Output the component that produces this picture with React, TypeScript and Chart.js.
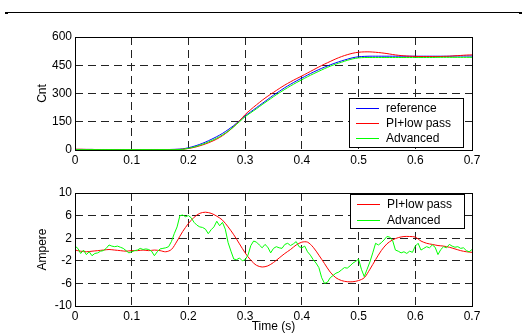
import React, { useEffect, useRef } from 'react';
import { Chart, registerables } from 'chart.js';

Chart.register(...registerables);

// ---- data ----
const xTicks = [0, 0.1, 0.2, 0.3, 0.4, 0.5, 0.6, 0.7];
const cntTicks = [0, 150, 300, 450, 600];
const ampTicks = [-10, -6, -2, 2, 6, 10];

const posStep = 0.01; // s
const posReference = [
  3, 3, 3, 3, 2, 2, 2, 2, 2, 2, 2, 2, 2, 2, 2, 2, 2, 3, 4, 6,
  12, 20, 30, 42, 56, 71, 88, 108, 130, 156,
  181, 203, 225, 247, 269, 291, 311, 331, 349, 366,
  382, 398, 413, 427, 440, 452, 463, 473, 482, 490,
  495, 497, 498, 498, 498, 498, 498, 498, 498, 498,
  498, 498, 498, 498, 498, 498, 498, 499, 499, 499, 499,
];
const posPiLowPass = [
  4, 4, 3, 3, 2, 2, 2, 2, 2, 2, 2, 2, 2, 2, 2, 2, 2, 2, 3, 4,
  8, 14, 22, 32, 44, 58, 76, 98, 124, 154,
  188, 215, 240, 264, 286, 306, 326, 345, 362, 378,
  393, 409, 425, 441, 456, 470, 484, 496, 506, 514,
  519, 521, 521, 519, 516, 512, 507, 503, 500, 498,
  497, 496, 496, 496, 496, 497, 498, 500, 502, 504, 505,
];
const posAdvanced = [
  2, 2, 2, 2, 2, 2, 2, 2, 2, 2, 2, 2, 2, 2, 2, 2, 2, 2, 2, 4,
  9, 16, 25, 36, 49, 63, 80, 100, 124, 150,
  177, 198, 219, 241, 262, 283, 303, 322, 340, 357,
  373, 389, 404, 418, 432, 445, 456, 466, 476, 484,
  489, 491, 491, 491, 491, 491, 491, 491, 491, 491,
  491, 491, 491, 491, 492, 492, 492, 492, 492, 492, 492,
];

const curPiStep = 0.01; // s
const curPiLowPass = [
  -0.1, -0.3, -0.4, -0.3, -0.2, -0.1, 0.0, -0.1, -0.2, -0.3,
  -0.2, -0.2, -0.1, -0.2, -0.1, -0.2, -0.4, 0.0, 1.5, 3.2,
  4.6, 5.7, 6.4, 6.6, 6.4, 5.9, 5.2, 4.0, 2.6, 1.0,
  -0.6, -1.9, -2.8, -3.1, -2.9, -2.3, -1.5, -0.7, 0.0, 0.8,
  1.3, 1.3, 0.4, -1.0, -2.5, -4.0, -5.0, -5.5, -5.7, -5.7,
  -5.5, -5.0, -3.5, -1.8, -0.2, 1.0, 1.7, 2.1, 2.3, 2.3,
  2.2, 1.5, 1.1, 0.9, 0.7, 0.6, 0.4, 0.1, -0.2, -0.4, -0.5,
];

const curAdvStep = 0.005; // s
const curAdvanced = [
  0.6, 0.2, -0.7, -0.1, -0.9, -0.4, -1.1, -0.7, -0.6, -0.3,
  -0.2, 0.2, 0.8, 0.6, 0.5, 0.6, 0.4, 0.2, -0.2, -0.6,
  -0.4, -0.2, -0.1, 0.2, 0.0, 0.1, 0.0, -0.3, -1.1, -0.4,
  0.1, 0.2, 0.3, 0.5, 1.4, 2.8, 4.0, 6.0, 6.1, 5.8,
  6.0, 5.6, 4.8, 4.3, 4.0, 3.9, 3.6, 2.8, 3.5, 4.0,
  5.0, 4.2, 4.8, 3.6, 1.2, -0.3, -1.7, -1.8, -1.5, -2.0,
  -1.8, -1.0, 0.7, 1.5, 1.3, 0.8, 0.3, 0.9, 0.4, -0.6,
  0.2, 0.5, 0.3, 0.2, 0.9, 1.1, 0.7, 1.0, 1.4, 0.5,
  0.3, 0.6, -0.4, -1.0, -1.8, -2.4, -3.2, -5.0, -6.0, -5.8,
  -5.0, -4.6, -4.2, -4.0, -3.6, -3.2, -3.3, -2.9, -2.4, -2.1,
  -1.7, -3.5, -4.8, -3.5, -2.2, -0.6, 1.1, 0.8, 1.2, 1.7,
  2.3, 2.2, 1.6, -0.1, -0.3, -0.6, -0.4, -0.7, -0.3, -0.5,
  0.6, 1.1, -0.1, 0.2, 0.5, 0.3, 0.8, 0.4, -0.9, 0.0,
  0.5, 0.3, 0.9, 0.6, 0.4, 0.5, 0.2, 0.3, -0.2, -0.4, 0.0,
];

// ---- helpers ----
const FONT = { family: '"Liberation Sans", Arial, Helvetica, sans-serif', size: 12 };
const toXY = (arr: number[], step: number) => arr.map((y, i) => ({ x: +(i * step).toFixed(4), y }));

const framePlugin = {
  id: 'frame',
  afterDatasetsDraw(chart: any) {
    const { ctx, chartArea: a } = chart;
    ctx.save();
    ctx.strokeStyle = '#000';
    ctx.lineWidth = 1;
    ctx.strokeRect(Math.round(a.left) + 0.5, Math.round(a.top) + 0.5, Math.round(a.right - a.left), Math.round(a.bottom - a.top));
    ctx.restore();
  },
};

const legendPlugin = {
  id: 'insideLegend',
  afterDatasetsDraw(chart: any, _args: any, opts: any) {
    const { ctx, chartArea: a } = chart;
    const w = opts.width;
    const h = opts.height;
    const left = Math.round(a.right - opts.right - w);
    const top = Math.round(opts.anchor === 'bottom' ? a.bottom - opts.bottom - h : a.top + opts.top);
    ctx.save();
    ctx.fillStyle = '#fff';
    ctx.fillRect(left, top, w, h);
    ctx.strokeStyle = '#000';
    ctx.lineWidth = 1;
    ctx.strokeRect(left + 0.5, top + 0.5, w, h);
    ctx.font = `${FONT.size}px ${FONT.family}`;
    ctx.textBaseline = 'middle';
    chart.data.datasets.forEach((ds: any, i: number) => {
      const y = Math.round(top + opts.firstRow + i * opts.rowHeight) + 0.5;
      ctx.strokeStyle = ds.borderColor;
      ctx.lineWidth = 1;
      ctx.beginPath();
      ctx.moveTo(left + 7, y);
      ctx.lineTo(left + 30, y);
      ctx.stroke();
      ctx.fillStyle = '#000';
      ctx.fillText(ds.label, left + 37, y);
    });
    ctx.restore();
  },
};

function xScale(height: number, title?: string) {
  return {
    type: 'linear',
    min: 0,
    max: 0.7,
    afterBuildTicks: (s: any) => { s.ticks = xTicks.map((v) => ({ value: v })); },
    afterFit: (s: any) => { s.height = height; },
    grid: { color: '#222', lineWidth: 1, drawTicks: false },
    border: { display: false, dash: [8, 5] },
    ticks: {
      color: '#000', font: FONT, padding: 3, maxRotation: 0, autoSkip: false,
      callback: (v: any) => String(+Number(v).toFixed(1)),
    },
    title: title
      ? { display: true, text: title, color: '#000', font: FONT, padding: { top: 0, bottom: 0 } }
      : { display: false },
  };
}

function yScale(min: number, max: number, ticks: number[], title: string) {
  return {
    type: 'linear',
    min,
    max,
    afterBuildTicks: (s: any) => { s.ticks = ticks.map((v) => ({ value: v })); },
    afterFit: (s: any) => { s.width = 75; },
    grid: { color: '#222', lineWidth: 1, drawTicks: false },
    border: { display: false, dash: [8, 5] },
    ticks: { color: '#000', font: FONT, padding: 3, autoSkip: false },
    title: { display: true, text: title, color: '#000', font: FONT, padding: { top: 35, bottom: 0 } },
  };
}

function ChartCanvas({ config, top, height }: { config: () => any; top: number; height: number }) {
  const ref = useRef<HTMLCanvasElement | null>(null);
  useEffect(() => {
    if (!ref.current) return;
    const chart = new Chart(ref.current, config());
    return () => chart.destroy();
  }, []);
  return (
    <canvas
      ref={ref}
      width={527}
      height={height}
      style={{ position: 'absolute', left: 0, top, width: 527, height }}
    />
  );
}

const topConfig = () => ({
  type: 'line',
  data: {
    datasets: [
      { label: 'reference', data: toXY(posReference, posStep), borderColor: '#0000ff', order: 2 },
      { label: 'PI+low pass', data: toXY(posPiLowPass, posStep), borderColor: '#ff0000', order: 1 },
      { label: 'Advanced', data: toXY(posAdvanced, posStep), borderColor: '#00ff00', order: 0 },
    ],
  },
  options: {
    animation: false,
    responsive: false,
    maintainAspectRatio: false,
    layout: { padding: { left: 0, right: 55, top: 37, bottom: 0 } },
    elements: { point: { radius: 0 }, line: { borderWidth: 1, tension: 0.3, fill: false } },
    plugins: {
      legend: { display: false },
      tooltip: { enabled: false },
      insideLegend: { anchor: 'bottom', right: 9, bottom: 3, width: 114, height: 49, firstRow: 9.5, rowHeight: 15 },
    },
    scales: { x: xScale(20), y: yScale(0, 600, cntTicks, 'Cnt') },
  },
  plugins: [framePlugin, legendPlugin],
});

const bottomConfig = () => ({
  type: 'line',
  data: {
    datasets: [
      { label: 'PI+low pass', data: toXY(curPiLowPass, curPiStep), borderColor: '#ff0000', order: 1, tension: 0.3 },
      { label: 'Advanced', data: toXY(curAdvanced, curAdvStep), borderColor: '#00ff00', order: 0, tension: 0 },
    ],
  },
  options: {
    animation: false,
    responsive: false,
    maintainAspectRatio: false,
    layout: { padding: { left: 0, right: 55, top: 23, bottom: 0 } },
    elements: { point: { radius: 0 }, line: { borderWidth: 1, fill: false } },
    plugins: {
      legend: { display: false },
      tooltip: { enabled: false },
      insideLegend: { anchor: 'top', right: 8, top: 1, width: 114, height: 34, firstRow: 9.5, rowHeight: 16 },
    },
    scales: { x: xScale(28, 'Time (s)'), y: yScale(-10, 10, ampTicks, 'Ampere') },
  },
  plugins: [framePlugin, legendPlugin],
});

export default function App() {
  return (
    <div style={{ position: 'absolute', left: 0, top: 0, width: 527, height: 334, background: '#fff', overflow: 'hidden' }}>
      <div style={{ position: 'absolute', left: 5, top: 12, width: 517, height: 0, borderTop: '1px solid #000' }} />
      <div style={{ position: 'absolute', left: 5, top: 12, width: 3, height: 2, background: '#000' }} />
      <div style={{ position: 'absolute', left: 519, top: 12, width: 3, height: 2, background: '#000' }} />
      <ChartCanvas config={topConfig} top={0} height={170} />
      <ChartCanvas config={bottomConfig} top={170} height={164} />
    </div>
  );
}
